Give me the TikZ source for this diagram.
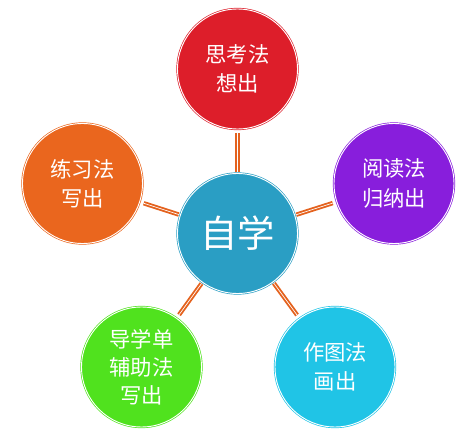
\documentclass[tikz,border=0pt]{standalone}
\usepackage{fontspec}
\setmainfont{Noto Sans CJK SC}
\definecolor{thinkred}{RGB}{221,30,42}
\definecolor{practorange}{RGB}{234,102,30}
\definecolor{readpurple}{RGB}{136,30,220}
\definecolor{drawcyan}{RGB}{32,196,230}
\definecolor{guidegreen}{RGB}{80,226,30}
\definecolor{selfteal}{RGB}{42,158,196}
\definecolor{linkorange}{RGB}{228,98,30}
\tikzset{
	bubble/.style={circle, minimum size=90pt, inner sep=0pt, fill=#1, draw=#1,
		double=white, double distance=0.7pt, line width=0.5pt, text=white,
		align=center, font=\fontsize{16}{22}\selectfont},
	link/.style={draw=linkorange, double=white, double distance=0.5pt, line width=1.4pt},
}
\begin{document}
\begin{tikzpicture}[x=0.75pt,y=-0.75pt]
	\useasboundingbox (0,0) rectangle (475,442);
	% centre and the five methods
	\node[bubble=selfteal, font=\fontsize{28}{30}\selectfont] (self) at (237.5,233.5) {自学};
	\node[bubble=thinkred] (think) at (237.5,69) {思考法\\想出};
	\node[bubble=readpurple] (read) at (394,183.5) {阅读法\\归纳出};
	\node[bubble=drawcyan] (graph) at (335,367) {作图法\\画出};
	\node[bubble=guidegreen, font=\fontsize{16}{21}\selectfont] (guide) at (141.5,367) {导学单\\辅助法\\写出};
	\node[bubble=practorange] (practice) at (82.5,183.5) {练习法\\写出};
	% spokes
	\foreach \m in {think,read,graph,guide,practice}
		\draw[link, shorten <=1pt, shorten >=3pt] (self) -- (\m);
\end{tikzpicture}
\end{document}
